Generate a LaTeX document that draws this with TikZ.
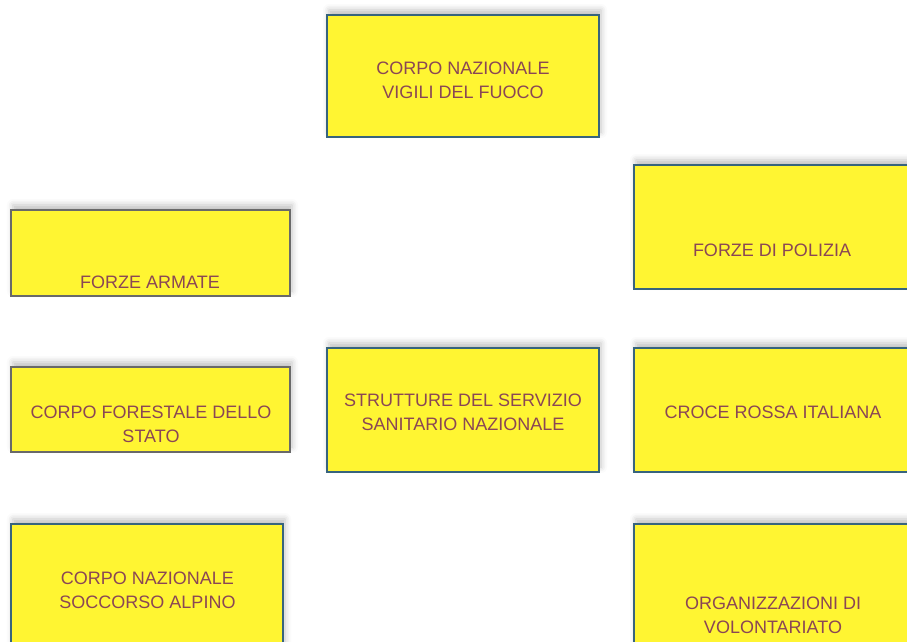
\documentclass[tikz,border=0pt]{standalone}
\usepackage{fontspec}
\setmainfont{Liberation Sans}
\usetikzlibrary{shadows.blur}
\definecolor{boxfill}{RGB}{255,245,50}
\definecolor{boxblue}{RGB}{55,100,125}
\definecolor{boxgray}{RGB}{105,105,105}
\definecolor{txtcol}{RGB}{138,70,85}
\begin{document}
\begin{tikzpicture}[x=1pt,y=-1pt,
  box/.style={rectangle, fill=boxfill, draw=boxblue, line width=2pt, inner sep=0pt,
    blur shadow={shadow xshift=2pt, shadow yshift=5pt, shadow blur radius=6pt, shadow opacity=25}},
  graybox/.style={box, draw=boxgray, line width=1.5pt},
  txt/.style={text=txtcol, align=center, font=\fontsize{18}{24}\selectfont, inner sep=0pt}]
\useasboundingbox (0,0) rectangle (907,641);
\node[box, minimum width=272pt, minimum height=122pt] (vigili) at (463,76) {};
\node[graybox, minimum width=279pt, minimum height=86pt] (armate) at (150.5,253) {};
\node[box, minimum width=278pt, minimum height=124pt] (polizia) at (773,227) {};
\node[graybox, minimum width=279pt, minimum height=85pt] (forestale) at (150.5,409.5) {};
\node[box, minimum width=272pt, minimum height=124pt] (strutture) at (463,410) {};
\node[box, minimum width=278pt, minimum height=124pt] (croce) at (773,410) {};
\node[box, minimum width=272pt, minimum height=126pt] (soccorso) at (147,587) {};
\node[box, minimum width=278pt, minimum height=126pt] (organizz) at (773,587) {};
\node[txt] (tvigili) at (463,80) {CORPO NAZIONALE\\VIGILI DEL FUOCO};
\node[txt] (tarmate) at (150,282) {FORZE ARMATE};
\node[txt] (tpolizia) at (772,250) {FORZE DI POLIZIA};
\node[txt] (tforestale) at (151,424.5) {CORPO FORESTALE DELLO\\STATO};
\node[txt] (tstrutture) at (463,412.5) {STRUTTURE DEL SERVIZIO\\SANITARIO NAZIONALE};
\node[txt] (tcroce) at (773,412) {CROCE ROSSA ITALIANA};
\node[txt] (tsoccorso) at (147.5,590) {CORPO NAZIONALE\\SOCCORSO ALPINO};
\node[txt] (torganizz) at (773,615) {ORGANIZZAZIONI DI\\VOLONTARIATO};
\end{tikzpicture}
\end{document}
